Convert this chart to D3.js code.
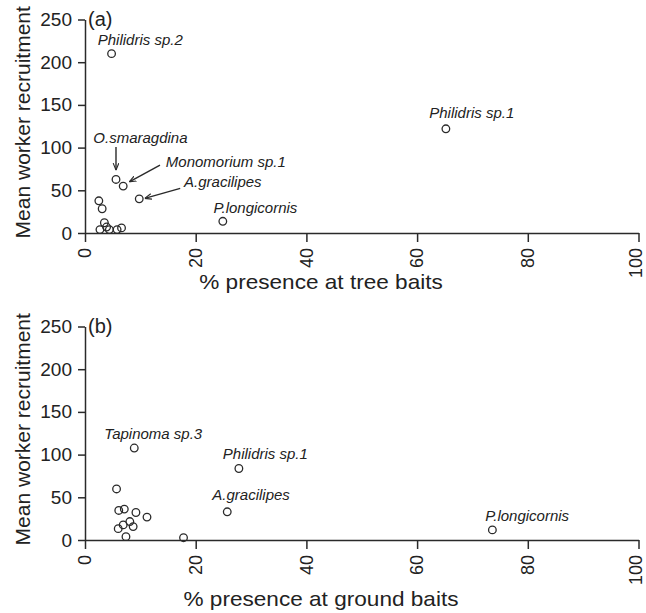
<!DOCTYPE html>
<html>
<head>
<meta charset="utf-8">
<script src="https://cdn.jsdelivr.net/npm/d3@7"></script>
<style>
body { margin: 0; background: #fff; }
text { font-family: "Liberation Sans", Arial, sans-serif; fill: #222; }
</style>
</head>
<body>
<div id="chart"></div>
<script>
// panel (a): tree baits
var tree_x = [4.8, 65.2, 5.6, 6.9, 9.8, 24.9, 2.5, 3.1, 2.7, 3.5, 3.9, 4.4, 5.8, 6.6];
var tree_y = [210, 122, 62.7, 54.9, 40, 13.7, 37.7, 28.4, 4, 12, 7, 4, 4, 6];
var tree_labels = ["Philidris sp.2", "Philidris sp.1", "O.smaragdina", "Monomorium sp.1", "A.gracilipes", "P.longicornis"];
var tree_label_x = [2.3, 62.2, 1.5, 14.6, 17.9, 23.2];
var tree_label_y = [219.6, 134.3, 105.5, 77.5, 54.1, 23];
// arrows: [x1, y1, x2, y2] in data units
var tree_arrows = [[5.6, 100.8, 5.6, 73.6], [13.55, 79.4, 8.0, 59.9], [17.2, 52.2, 10.8, 40.5]];

// panel (b): ground baits
var ground_x = [8.9, 27.8, 25.7, 73.6, 17.8, 5.7, 6.1, 7.1, 9.2, 11.2, 8.1, 6.9, 6.0, 8.7, 7.4];
var ground_y = [107.7, 83.7, 33, 11.8, 2.7, 59.8, 34.6, 36.2, 32.2, 26.8, 21.6, 17.7, 13.3, 15.7, 3.9];
var ground_labels = ["Tapinoma sp.3", "Philidris sp.1", "A.gracilipes", "P.longicornis"];
var ground_label_x = [3.5, 24.9, 23.0, 72.3];
var ground_label_y = [118.8, 95.2, 47.2, 22.4];

var x_ticks = [0, 20, 40, 60, 80, 100];
var y_ticks = [0, 50, 100, 150, 200, 250];

var width = 646, height = 613;
var left = 85, right = 638.5;
var panel_h = 213.5;
var ink = "#2a2a2a";

var svg = d3.select("#chart").append("svg")
            .attr("width", width)
            .attr("height", height);

var defs = svg.append("defs");
defs.append("marker")
    .attr("id", "arrow")
    .attr("viewBox", "0 0 10 10")
    .attr("refX", 10).attr("refY", 5)
    .attr("markerWidth", 7).attr("markerHeight", 7)
    .attr("markerUnits", "userSpaceOnUse")
    .attr("orient", "auto")
    .append("path")
    .attr("d", "M0,1 L10,5 L0,9")
    .attr("fill", "none")
    .attr("stroke", ink)
    .attr("stroke-width", 1.6);

function drawPanel(top, tag, xs, ys, labels, lx, ly, arrows, xtitle, title_y){
    var x = d3.scaleLinear().domain([0, 100]).range([left, right]);
    var y = d3.scaleLinear().domain([0, 250]).range([top + panel_h, top]);
    var g = svg.append("g");

    var xAxis = g.append("g")
                 .attr("transform", "translate(0," + y(0) + ")")
                 .call(d3.axisBottom(x).tickValues(x_ticks).tickSize(9).tickSizeOuter(0).tickPadding(6));
    xAxis.selectAll("text")
         .attr("transform", "rotate(-90)")
         .attr("text-anchor", "end")
         .attr("x", -15)
         .attr("y", 0)
         .attr("dy", function(d){ return d == 100 ? "0.14em" : "0.32em"; });

    var yAxis = g.append("g")
                 .attr("transform", "translate(" + left + ",0)")
                 .call(d3.axisLeft(y).tickValues(y_ticks).tickSize(7).tickSizeOuter(0).tickPadding(6));

    g.selectAll(".domain, .tick line")
     .attr("stroke", ink)
     .attr("stroke-width", 1.5);
    g.selectAll(".tick text")
     .style("font-size", "18px")
     .style("font-family", "'Liberation Sans', Arial, sans-serif")
     .attr("fill", ink);
    yAxis.selectAll(".tick text").style("font-size", "19px");

    g.selectAll(".pt")
     .data(xs)
     .enter().append("circle")
     .attr("class", "pt")
     .attr("cx", function(d){ return x(d); })
     .attr("cy", function(d, i){ return y(ys[i]); })
     .attr("r", 3.8)
     .attr("fill", "none")
     .attr("stroke", ink)
     .attr("stroke-width", 1.3);

    g.selectAll(".lab")
     .data(labels)
     .enter().append("text")
     .attr("class", "lab")
     .attr("x", function(d, i){ return x(lx[i]); })
     .attr("y", function(d, i){ return y(ly[i]); })
     .style("font-size", "15px")
     .style("font-style", "italic")
     .text(function(d){ return d; });

    g.selectAll(".arr")
     .data(arrows)
     .enter().append("line")
     .attr("class", "arr")
     .attr("x1", function(d){ return x(d[0]); })
     .attr("y1", function(d){ return y(d[1]); })
     .attr("x2", function(d){ return x(d[2]); })
     .attr("y2", function(d){ return y(d[3]); })
     .attr("stroke", ink)
     .attr("stroke-width", 1.4)
     .attr("marker-end", "url(#arrow)");

    g.append("text")
     .attr("x", left + 3)
     .attr("y", top + 6)
     .style("font-size", "20px")
     .text(tag);

    g.append("text")
     .attr("transform", "translate(30," + (top + panel_h / 2 - 4) + ") rotate(-90)")
     .attr("text-anchor", "middle")
     .style("font-size", "21px")
     .text("Mean worker recruitment");

    // the reference text is a little wider than Arial, so stretch it sideways
    g.append("text")
     .attr("transform", "translate(321," + title_y + ") scale(1.13,1)")
     .attr("text-anchor", "middle")
     .style("font-size", "20px")
     .text(xtitle);
}

drawPanel(19.5, "(a)", tree_x, tree_y, tree_labels, tree_label_x, tree_label_y, tree_arrows, "% presence at tree baits", 289);
drawPanel(326.5, "(b)", ground_x, ground_y, ground_labels, ground_label_x, ground_label_y, [], "% presence at ground baits", 605.5);
</script>
</body>
</html>
